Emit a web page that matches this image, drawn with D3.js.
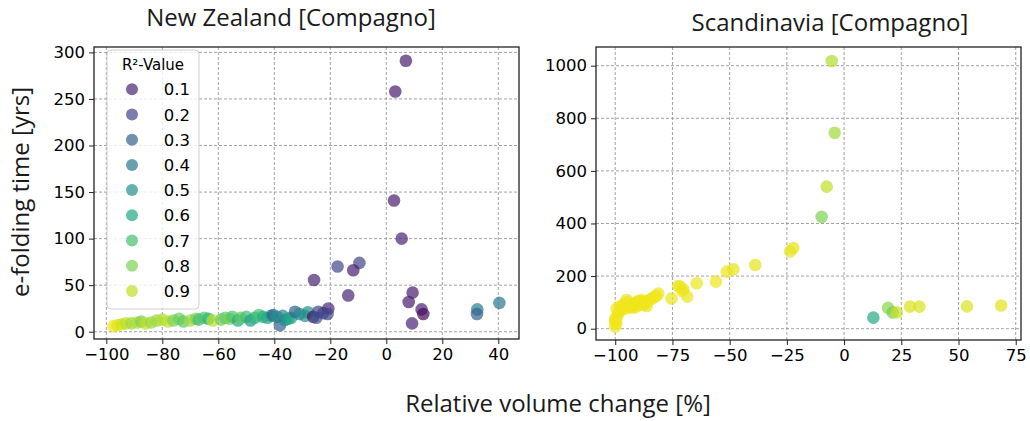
<!doctype html>
<html>
<head>
<meta charset="utf-8">
<title>e-folding time vs relative volume change</title>
<script src="https://d3js.org/d3.v7.min.js"></script>
<style>
  body { margin: 0; background: #fff; }
  .tick text { font-family: "DejaVu Sans", sans-serif; font-size: 16.5px; fill: #000; }
  .lbl { font-family: "Open Sans", sans-serif; font-weight: 400; fill: #1a1a1a; }
  .grid line { stroke: #8a8a8a; stroke-width: 0.8; stroke-dasharray: 3,2; }
</style>
</head>
<body>
<div id="chart"></div>
<script>
// New Zealand [Compagno]
var nzX = [-97.5, -96, -94.5, -93, -91, -89, -87.5, -86, -84, -82, -80, -78, -76, -74, -72.5, -70,
           -68, -67, -65, -63.5, -62, -59, -57.5, -56, -55, -53, -52, -50, -48.5, -47, -45.5, -44,
           -42.5, -41, -40.4, -39, -38, -36.2, -37, -35, -34, -32.6, -31, -29, -28, -26.1, -25, -24.3,
           -22.5, -20.7, -21, -25.8, -17.4, -9.6, -11.8, -13.6, 2.75, 3.2, 7.0, 5.5, 9.4, 8.0, 12.6, 13.2,
           9.2, 32.5, 32.4, 40.4];
var nzY = [6, 7, 8, 9, 9, 10, 11, 9, 10, 12, 13, 11, 12, 14, 11, 12,
           14, 13, 15, 14, 12, 13, 15, 14, 16, 12, 15, 16, 12, 15, 18, 16,
           15, 17, 18, 16, 7, 12.6, 17, 14, 15, 21.5, 19, 17, 21, 16, 15, 21.5,
           20, 25, 19, 55.5, 70, 74, 66, 39, 141, 258, 291, 100, 42, 32, 24, 19,
           9, 24, 19, 31];
var nzR2 = [0.97, 0.95, 0.93, 0.9, 0.85, 0.88, 0.8, 0.9, 0.85, 0.85, 0.88, 0.9, 0.8, 0.78, 0.75, 0.85,
            0.8, 0.7, 0.72, 0.65, 0.9, 0.78, 0.75, 0.8, 0.72, 0.6, 0.75, 0.7, 0.55, 0.65, 0.7, 0.62,
            0.6, 0.55, 0.3, 0.5, 0.3, 0.5, 0.45, 0.55, 0.6, 0.3, 0.45, 0.5, 0.5, 0.05, 0.25, 0.2,
            0.2, 0.12, 0.2, 0.1, 0.22, 0.2, 0.08, 0.1, 0.08, 0.08, 0.08, 0.1, 0.08, 0.08, 0.1, 0.02,
            0.1, 0.42, 0.3, 0.4];

// Scandinavia [Compagno]
var scX = [-100, -100, -100, -99.8, -99.5, -99.4, -99, -98.5, -98, -97.5, -97, -96.5, -96, -95, -95,
           -94.5, -94, -93, -92.8, -92, -91.5, -91, -90.6, -90, -89.5, -89, -88.5, -88, -87.5, -87,
           -86.3, -86, -85, -84, -83, -82, -81.2, -75.4, -72.5, -71.7, -70.3, -70.7, -68.5, -64.4, -56,
           -51.3, -48.4, -38.8, -23.6, -22.2, -9.8, -7.6, -4.1, -5.4, 12.8, 19.2, 21.2, 23, 28.8, 32.9,
           53.7, 68.6];
var scY = [8, 25, 33, 40, 20, 77, 50, 62, 84, 70, 75, 92, 80, 78, 109,
           100, 85, 88, 81, 92, 80, 95, 103, 88, 105, 100, 109, 95, 90, 100,
           86, 105, 110, 115, 120, 125, 134, 115, 162, 160, 150, 143, 122, 173, 179,
           217, 226, 242, 294, 307, 425, 540, 745, 1018, 42, 79, 62, 62, 84, 84,
           85, 88];
var scR2 = [0.98, 0.98, 0.98, 0.98, 0.98, 0.98, 0.98, 0.98, 0.98, 0.98, 0.98, 0.97, 0.98, 0.98, 0.96,
            0.98, 0.98, 0.98, 0.98, 0.98, 0.98, 0.98, 0.97, 0.98, 0.98, 0.98, 0.98, 0.98, 0.98, 0.98,
            0.97, 0.98, 0.98, 0.98, 0.98, 0.98, 0.98, 0.97, 0.97, 0.97, 0.97, 0.97, 0.97, 0.97, 0.97,
            0.97, 0.96, 0.96, 0.96, 0.96, 0.8, 0.9, 0.86, 0.88, 0.6, 0.82, 0.78, 0.92, 0.94, 0.94,
            0.94, 0.95];

var legendVals = [0.1, 0.2, 0.3, 0.4, 0.5, 0.6, 0.7, 0.8, 0.9];
var nzXTicks = [-100, -80, -60, -40, -20, 0, 20, 40];
var nzYTicks = [0, 50, 100, 150, 200, 250, 300];
var scXTicks = [-100, -75, -50, -25, 0, 25, 50, 75];
var scYTicks = [0, 200, 400, 600, 800, 1000];

var width = 1030, height = 421;
var svg = d3.select('#chart').append('svg')
            .attr('width', width)
            .attr('height', height);

function panel(opt) {
   var x = d3.scaleLinear().domain(opt.xDom).range([opt.left, opt.right]);
   var y = d3.scaleLinear().domain(opt.yDom).range([opt.bottom, opt.top]);
   var g = svg.append('g');

   g.append('g').attr('class', 'grid')
    .selectAll('line.v').data(opt.xTicks).enter().append('line')
    .attr('x1', function(d){ return x(d); }).attr('x2', function(d){ return x(d); })
    .attr('y1', opt.top).attr('y2', opt.bottom);
   g.append('g').attr('class', 'grid')
    .selectAll('line.h').data(opt.yTicks).enter().append('line')
    .attr('y1', function(d){ return y(d); }).attr('y2', function(d){ return y(d); })
    .attr('x1', opt.left).attr('x2', opt.right);

   var data = opt.xs.map(function(v, i){ return {x: v, y: opt.ys[i], r: opt.r2[i]}; });
   g.append('g').selectAll('circle').data(data).enter().append('circle')
    .attr('cx', function(d){ return x(d.x); })
    .attr('cy', function(d){ return y(d.y); })
    .attr('r', 6.3)
    .attr('fill', function(d){ return d3.interpolateViridis(d.r); })
    .attr('fill-opacity', 0.7);

   var fmt = d3.format('d');
   var ax = g.append('g').attr('transform', 'translate(0,' + opt.bottom + ')')
             .call(d3.axisBottom(x).tickValues(opt.xTicks).tickFormat(fmt).tickSize(5).tickPadding(4));
   var ay = g.append('g').attr('transform', 'translate(' + opt.left + ',0)')
             .call(d3.axisLeft(y).tickValues(opt.yTicks).tickFormat(fmt).tickSize(5).tickPadding(4));
   [ax, ay].forEach(function(a){
      a.select('.domain').remove();
      a.selectAll('.tick line').attr('stroke', '#222').attr('stroke-width', 1);
   });

   g.append('rect')
    .attr('x', opt.left).attr('y', opt.top)
    .attr('width', opt.right - opt.left).attr('height', opt.bottom - opt.top)
    .attr('fill', 'none').attr('stroke', '#222').attr('stroke-width', 1.3);

   g.append('text').attr('class', 'lbl')
    .attr('x', opt.titleX).attr('y', opt.titleY)
    .attr('text-anchor', 'middle').style('font-size', '24px')
    .text(opt.title);
   return {x: x, y: y};
}

panel({
   left: 94, right: 519, top: 47, bottom: 339,
   xDom: [-104.4, 47.4], yDom: [-7.8, 305.8],
   xTicks: nzXTicks, yTicks: nzYTicks,
   xs: nzX, ys: nzY, r2: nzR2,
   title: 'New Zealand [Compagno]', titleX: 291, titleY: 26
});

panel({
   left: 596, right: 1021, top: 47, bottom: 340,
   xDom: [-108.4, 77.3], yDom: [-43, 1071],
   xTicks: scXTicks, yTicks: scYTicks,
   xs: scX, ys: scY, r2: scR2,
   title: 'Scandinavia [Compagno]', titleX: 830, titleY: 31
});

// legend
var lg = svg.append('g');
lg.append('rect')
  .attr('x', 107).attr('y', 50).attr('width', 92).attr('height', 259)
  .attr('rx', 4).attr('fill', '#fff').attr('fill-opacity', 0.8)
  .attr('stroke', '#cfcfcf').attr('stroke-width', 1);
lg.append('text')
  .attr('x', 153).attr('y', 70).attr('text-anchor', 'middle')
  .style('font-family', '"DejaVu Sans", sans-serif').style('font-size', '15px')
  .text('R²-Value');
var row = lg.selectAll('g.row').data(legendVals).enter().append('g')
  .attr('transform', function(d, i){ return 'translate(0,' + (89.3 + i * 25.2) + ')'; });
row.append('circle').attr('cx', 132).attr('cy', 0).attr('r', 6)
  .attr('fill', function(d){ return d3.interpolateViridis(d); })
  .attr('fill-opacity', 0.7);
row.append('text').attr('x', 190).attr('y', 6).attr('text-anchor', 'end')
  .style('font-family', '"DejaVu Sans", sans-serif').style('font-size', '16.5px')
  .text(function(d){ return d.toFixed(1); });

// shared axis labels
svg.append('text').attr('class', 'lbl')
   .attr('x', 558).attr('y', 412).attr('text-anchor', 'middle').style('font-size', '24px')
   .text('Relative volume change [%]');
svg.append('text').attr('class', 'lbl')
   .attr('transform', 'translate(28.5,192) rotate(-90)')
   .attr('text-anchor', 'middle').style('font-size', '24px')
   .text('e-folding time [yrs]');
</script>
</body>
</html>
